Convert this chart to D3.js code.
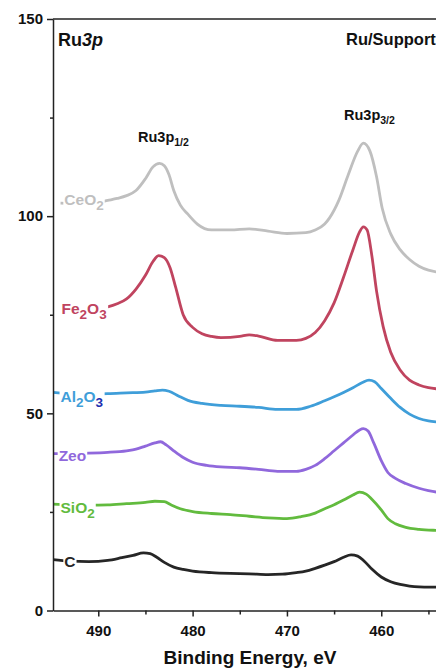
<!DOCTYPE html>
<html>
<head>
<meta charset="utf-8">
<script src="https://cdn.jsdelivr.net/npm/d3@7"></script>
<style>
  body { margin: 0; background: #fff; }
  svg { display: block; font-family: "Liberation Sans", Arial, sans-serif; font-weight: bold; }
</style>
</head>
<body>
<svg width="436" height="669"></svg>
<script>
// binding energy (eV) / intensity pairs
const ceo2 = [[494,103.3],[492,103.2],[490,103.5],[489,104],[488,104.5],[487,105.2],[486,106.5],[485,109.5],[484.2,112.5],[483.5,113.4],[483,112.8],[482.5,110.5],[482,106.5],[481.3,102.8],[480.5,100.5],[479.5,98],[478,96.5],[476,96.5],[474,96.8],[472,96.2],[470,95.6],[468,95.8],[467,96.5],[466,98],[465.5,99.5],[464.5,104],[463.5,110.5],[462.5,116.5],[461.9,118.5],[461.2,116.5],[460.5,110],[459.9,102],[459,95.5],[458,91.5],[457,89],[456,87.3],[455,86.3],[454,85.8],[452,85.3]];
const fe2o3 = [[490,76.5],[489,77],[488,77.8],[487,79],[486,81.5],[485,85],[484.2,88.5],[483.6,90],[483,89.5],[482.4,87],[481.8,82],[481,75],[480,71.8],[479,70.2],[478,69.5],[477,69.2],[475,69.5],[474,69.9],[473,69.6],[471,68.5],[469,68.5],[468,69],[467,70.5],[466,73.5],[465,78],[464,84.5],[463,91.5],[462.3,96],[461.9,97.3],[461.5,96.5],[461,90],[460.5,81],[459.8,72],[459,65.5],[458,61],[457,58.4],[456,57.2],[455,56.5],[454,56.2],[452,56]];
const al2o3 = [[494.8,55.3],[493,55],[491,54.9],[489,55],[487,55.2],[485,55.4],[484,55.7],[483.2,55.9],[482.5,55.6],[481.5,54.4],[480.5,53.3],[479,52.5],[477,52],[475,51.8],[473,51.5],[471,51],[469,51],[467.5,51.8],[466,53.2],[465,54.2],[464,55.3],[463,56.5],[462,57.8],[461.3,58.4],[460.7,58],[460,56.3],[459,53.8],[458,51.5],[457,49.8],[456,48.7],[455,48.1],[454,47.8],[452,47.5]];
const zeo = [[494.8,39.8],[493,39.8],[491,39.9],[489,40.1],[487,40.5],[486,40.9],[485,41.7],[484,42.5],[483.4,42.8],[482.8,42],[482,40.5],[481,38.8],[480,37.6],[478.5,36.8],[477,36.4],[475,36.2],[473,35.8],[471,35.3],[469,35.3],[468,35.8],[467,36.8],[466,38.5],[465,40.5],[464,42.5],[463,44.5],[462.3,45.8],[461.9,46.1],[461.4,45.5],[460.8,42.5],[460,38],[459.3,35],[458.5,33.5],[457.4,32.2],[456,31],[455,30.4],[454,30],[452,29.8]];
const sio2 = [[494.8,27],[493,26.8],[491,26.7],[489,26.8],[487,27.1],[485,27.4],[484,27.7],[483,27.6],[482.3,26.8],[481.3,25.8],[480,25.1],[478,24.6],[476,24.3],[474,23.9],[472,23.5],[470,23.3],[468.5,23.8],[467,24.7],[466,25.8],[465,26.8],[464,28],[463,29.3],[462.3,30],[461.6,29.5],[461,28.2],[460,25.5],[459.3,23.3],[458.5,22],[457.4,21.1],[456,20.6],[454,20.3],[452,20.1]];
const carbon = [[494.8,12.9],[493,12.5],[491,12.4],[489,12.7],[487.5,13.4],[486.3,14],[485.2,14.6],[484.5,14.4],[483.8,13.5],[483,12.2],[482,11],[481,10.4],[480,10],[478,9.6],[476,9.4],[474,9.3],[472,9.1],[470.5,9.2],[469,9.6],[468,10],[467,10.7],[466,11.5],[465,12.4],[464,13.5],[463.2,14.1],[462.5,13.8],[461.8,12.5],[461,10.5],[460,8.5],[459,7.3],[458,6.6],[457,6.2],[456,6],[454,5.9],[452,5.8]];

const yMajor = [0, 50, 100, 150];
const yMinor = [25, 75, 125];
const xMajor = [490, 480, 470, 460];
const xMinor = [485, 475, 465, 455];

const series = [
  {data: ceo2,   color: "#bfbfbf", label: [["CeO", ""], ["2", "sub"]], lx: 493.6, ly: 102.8},
  {data: fe2o3,  color: "#c0445f", label: [["Fe", ""], ["2", "sub"], ["O", ""], ["3", "sub"]], lx: 493.9, ly: 75.3},
  {data: al2o3,  color: "#3f9ed9", label: [["Al", ""], ["2", "sub"], ["O", ""], ["3", "sub3"]], lx: 494.0, ly: 53.0},
  {data: zeo,    color: "#9068dc", label: [["Zeo", ""]], lx: 494.2, ly: 38.0},
  {data: sio2,   color: "#62bb3e", label: [["SiO", ""], ["2", "sub"]], lx: 494.0, ly: 24.8},
  {data: carbon, color: "#262626", label: [["C", ""]], lx: 493.6, ly: 11.0}
];

const svg = d3.select("svg");
const x = d3.scaleLinear().domain([494.8, 450]).range([53, 475.6]);
const y = d3.scaleLinear().domain([0, 150]).range([610.5, 19]);

svg.append("clipPath").attr("id", "clip")
  .append("rect").attr("x", 53).attr("y", 19).attr("width", 430).attr("height", 592);

const line = d3.line().x(d => x(d[0])).y(d => y(d[1])).curve(d3.curveMonotoneX);

const plot = svg.append("g").attr("clip-path", "url(#clip)");
series.forEach(s => {
  plot.append("path")
    .attr("d", line(s.data))
    .attr("fill", "none")
    .attr("stroke", s.color)
    .attr("stroke-width", 2.8)
    .attr("stroke-linejoin", "round");
});

// curve labels over a white patch
series.forEach(s => {
  const g = svg.append("g");
  const t = g.append("text")
    .attr("x", x(s.lx)).attr("y", y(s.ly))
    .attr("font-size", 15.5)
    .attr("fill", s.color);
  s.label.forEach(p => {
    const ts = t.append("tspan").text(p[0]);
    if (p[1] === "sub" || p[1] === "sub3") {
      ts.attr("font-size", 13.5).attr("dy", 5);
      if (p[1] === "sub3") ts.attr("fill", "#1d2fb0");
    } else if (t.selectAll("tspan").size() > 1) {
      ts.attr("dy", -5);
    }
  });
  const b = t.node().getBBox();
  g.insert("rect", "text")
    .attr("x", b.x - 1).attr("y", b.y + 2)
    .attr("width", b.width + 2).attr("height", b.height - 2)
    .attr("fill", "#fff");
});

// axes
const axisColor = "#222";
svg.append("g").attr("transform", "translate(53,0)")
  .call(d3.axisLeft(y).tickValues(yMajor).tickSize(6).tickSizeOuter(0).tickPadding(4));
svg.append("g").attr("transform", "translate(53,0)")
  .call(d3.axisLeft(y).tickValues(yMinor).tickSize(3).tickFormat("").tickSizeOuter(0))
  .select(".domain").remove();

svg.append("g").attr("transform", "translate(0,610.5)")
  .call(d3.axisBottom(x).tickValues(xMajor).tickSize(6).tickSizeOuter(0).tickPadding(9));
svg.append("g").attr("transform", "translate(0,610.5)")
  .call(d3.axisBottom(x).tickValues(xMinor).tickSize(4).tickFormat("").tickSizeOuter(0))
  .select(".domain").remove();

svg.selectAll(".domain, .tick line").attr("stroke", axisColor).attr("stroke-width", 1.5);
svg.selectAll(".tick text")
  .attr("fill", "#111")
  .attr("font-size", 15)
  .attr("font-family", "'Liberation Sans', Arial, sans-serif")
  .attr("font-weight", "bold");

// top frame
svg.append("line")
  .attr("x1", x(494.8)).attr("x2", x(450))
  .attr("y1", y(150)).attr("y2", y(150))
  .attr("stroke", axisColor).attr("stroke-width", 1.5);

// titles
const ttl = svg.append("text").attr("x", 58).attr("y", 46).attr("font-size", 18).attr("fill", "#111");
ttl.append("tspan").text("Ru");
ttl.append("tspan").attr("font-style", "italic").text("3p");

svg.append("text").attr("x", 346).attr("y", 45).attr("font-size", 16.5).attr("fill", "#111").text("Ru/Support");

function peakLabel(px, py, sub) {
  const t = svg.append("text").attr("x", px).attr("y", py).attr("font-size", 14.5).attr("fill", "#111");
  t.append("tspan").text("Ru3p");
  t.append("tspan").attr("font-size", 10.5).attr("dy", 4).text(sub);
}
peakLabel(138, 142, "1/2");
peakLabel(344, 120, "3/2");

svg.append("text")
  .attr("x", 250).attr("y", 664)
  .attr("text-anchor", "middle")
  .attr("font-size", 19)
  .attr("fill", "#111")
  .text("Binding Energy, eV");
</script>
</body>
</html>
